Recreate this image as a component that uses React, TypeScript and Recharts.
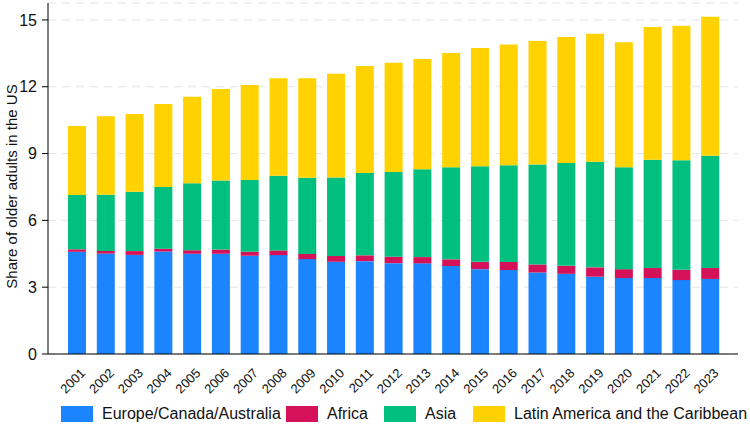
import { Bar, BarChart, CartesianGrid, XAxis, YAxis } from 'recharts'

const years = [
  '2001', '2002', '2003', '2004', '2005', '2006', '2007', '2008', '2009', '2010', '2011', '2012',
  '2013', '2014', '2015', '2016', '2017', '2018', '2019', '2020', '2021', '2022', '2023',
]

const europe = [
  4.59, 4.51, 4.45, 4.6, 4.5, 4.5, 4.41, 4.44, 4.26, 4.14, 4.17, 4.08,
  4.07, 3.95, 3.81, 3.77, 3.66, 3.6, 3.47, 3.41, 3.41, 3.32, 3.37,
]
const africa = [
  0.11, 0.12, 0.17, 0.13, 0.16, 0.19, 0.18, 0.21, 0.23, 0.26, 0.26, 0.29,
  0.28, 0.3, 0.33, 0.36, 0.36, 0.36, 0.42, 0.4, 0.45, 0.46, 0.49,
]
const asia = [
  2.44, 2.52, 2.66, 2.77, 3.01, 3.1, 3.22, 3.35, 3.42, 3.53, 3.7, 3.8,
  3.95, 4.14, 4.29, 4.35, 4.49, 4.62, 4.74, 4.58, 4.86, 4.92, 5.04,
]
const latinAmerica = [
  3.1, 3.52, 3.5, 3.73, 3.88, 4.11, 4.27, 4.38, 4.47, 4.65, 4.8, 4.91,
  4.95, 5.12, 5.31, 5.42, 5.54, 5.65, 5.75, 5.61, 5.96, 6.04, 6.24,
]

const yTicks = [0, 3, 6, 9, 12, 15]

const SERIES = [
  { key: 'europe', name: 'Europe/Canada/Australia', color: '#1a85ff' },
  { key: 'africa', name: 'Africa', color: '#d41159' },
  { key: 'asia', name: 'Asia', color: '#00bf7f' },
  { key: 'latinAmerica', name: 'Latin America and the Caribbean', color: '#ffd200' },
]

// legend x offsets, laid out the way the Stata legend columns fall
const LEGEND_LEFT = [61, 286, 384, 473]

const FONT = '"Liberation Sans", Arial, sans-serif'

const data = years.map((year, i) => ({
  year,
  europe: europe[i],
  africa: africa[i],
  asia: asia[i],
  latinAmerica: latinAmerica[i],
}))

function YearTick({ x, y, payload }: any) {
  return (
    <g transform={`translate(${x + 2},${y + 5})`}>
      <text
        transform="rotate(-45)"
        textAnchor="end"
        dominantBaseline="hanging"
        fontSize={13}
        fontFamily={FONT}
        fill="#111"
      >
        {payload.value}
      </text>
    </g>
  )
}

// rotated axis title beside the value axis
function AxisTitle({ viewBox }: any) {
  const cx = viewBox.x + 11
  const cy = viewBox.y + viewBox.height / 2 + 8
  return (
    <text
      x={cx}
      y={cy}
      transform={`rotate(-90,${cx},${cy})`}
      textAnchor="middle"
      dominantBaseline="central"
      fontSize={15}
      fontFamily={FONT}
      fill="#111"
    >
      Share of older adults in the US
    </text>
  )
}

export default function App() {
  return (
    <div style={{ position: 'absolute', left: 0, top: 0, width: 750, height: 424, background: '#fff' }}>
      <BarChart
        width={750}
        height={424}
        data={data}
        margin={{ top: 3, right: 12, bottom: 30, left: 0 }}
        barSize={18}
      >
        <CartesianGrid stroke="#e4e4e4" strokeDasharray="8 6" vertical={false} />
        <XAxis
          dataKey="year"
          axisLine={{ stroke: '#000' }}
          tickLine={false}
          interval={0}
          height={40}
          padding={{ left: 15, right: 13 }}
          tick={<YearTick />}
        />
        <YAxis
          domain={[0, 15.76]}
          ticks={yTicks}
          allowDataOverflow
          width={48}
          axisLine={{ stroke: '#000' }}
          tickLine={{ stroke: '#000' }}
          tickSize={6}
          tick={{ fontSize: 16, fontFamily: FONT, fill: '#111', dx: -3 }}
          label={<AxisTitle />}
        />
        {SERIES.map((s) => (
          <Bar key={s.key} dataKey={s.key} name={s.name} stackId="region" fill={s.color} isAnimationActive={false} />
        ))}
      </BarChart>
      {SERIES.map((s, i) => (
        <div
          key={s.key}
          style={{
            position: 'absolute',
            left: LEGEND_LEFT[i],
            top: 406,
            height: 16,
            display: 'flex',
            alignItems: 'center',
            fontFamily: FONT,
            fontSize: 16,
            color: '#111',
            whiteSpace: 'nowrap',
          }}
        >
          <span style={{ display: 'inline-block', width: 32, height: 16, background: s.color, marginRight: 9 }} />
          {s.name}
        </div>
      ))}
    </div>
  )
}
